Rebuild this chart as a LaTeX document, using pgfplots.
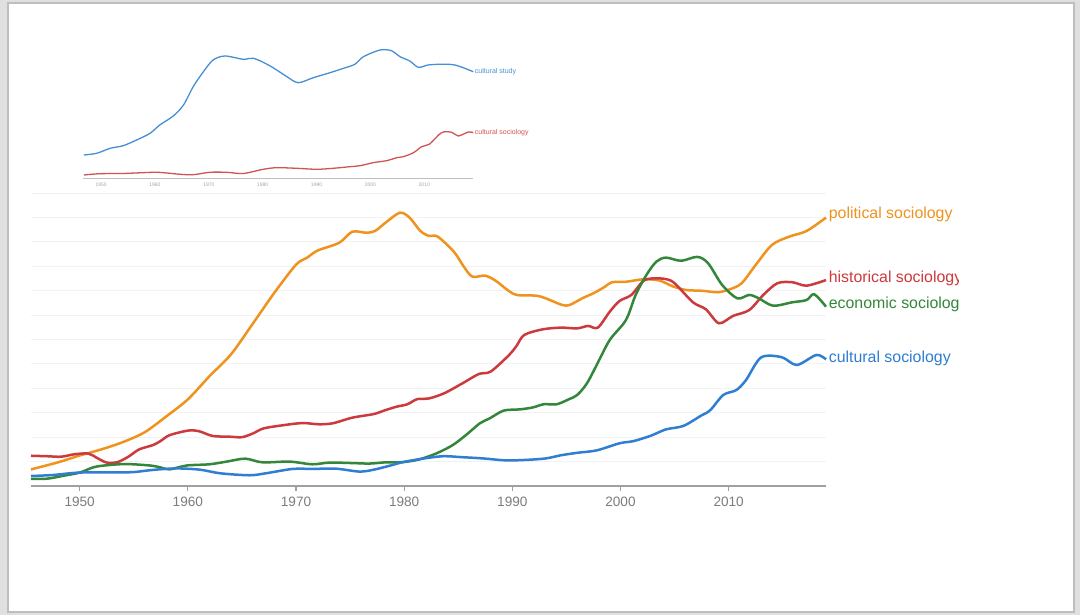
\documentclass[border=0pt]{standalone}
\usepackage{fontspec}
\setmainfont{Liberation Sans}
\usepackage{pgfplots}
\pgfplotsset{compat=1.18}

\definecolor{pol}{RGB}{240,146,30}
\definecolor{his}{RGB}{205,58,62}
\definecolor{eco}{RGB}{52,135,58}
\definecolor{cul}{RGB}{47,126,210}
\definecolor{insblue}{RGB}{72,142,212}
\definecolor{insred}{RGB}{208,84,86}
\definecolor{gridc}{RGB}{242,242,242}
\definecolor{axisc}{RGB}{160,160,160}
\definecolor{tickc}{RGB}{125,125,125}
\definecolor{bgc}{RGB}{224,224,224}
\definecolor{framec}{RGB}{190,190,190}

\begin{document}
\begin{tikzpicture}
\path[use as bounding box, fill=bgc] (0,0) rectangle (540pt,307.5pt);
\draw[fill=white, draw=framec, line width=0.6pt] (4pt,1.5pt) rectangle (537pt,306pt);

% main chart
\begin{axis}[
  at={(15.5pt,64.5pt)}, anchor=south west,
  scale only axis, width=397.5pt, height=146.4pt,
  xmin=1945.5, xmax=2019, ymin=0, ymax=12,
  axis lines*=left,
  y axis line style={draw=none},
  x axis line style={draw=axisc, line width=0.9pt},
  ytick={1,...,12}, yticklabels={}, ymajorgrids,
  major y tick style={draw=none},
  grid style={draw=gridc, line width=0.5pt},
  xtick={1950,1960,...,2010},
  tick align=outside,
  major x tick style={draw=axisc, line width=0.6pt},
  major tick length=2.5pt,
  xticklabel style={font=\fontsize{6.8}{7}\selectfont, text=tickc, inner sep=0pt, yshift=-2.6pt},
  /pgf/number format/1000 sep={},
  /pgf/number format/assume math mode=true,
  clip=false,
  every axis plot/.append style={line width=1.25pt, smooth, no markers},
]
\addplot[pol] coordinates {
(1945.5,0.68) (1948,0.97) (1950,1.25) (1952,1.5) (1954,1.8) (1956,2.2) (1958,2.85)
(1960,3.55) (1962,4.5) (1964,5.4) (1966,6.65) (1968,7.92) (1970,9.07) (1971,9.35)
(1972,9.65) (1974,9.97) (1975.2,10.42) (1976.5,10.38) (1977.3,10.45) (1978.3,10.8)
(1979.6,11.2) (1980.5,11.0) (1981.5,10.45) (1982.3,10.25) (1983.1,10.22) (1984.6,9.6)
(1985.5,9.0) (1986.3,8.58) (1987.5,8.62) (1988.5,8.4) (1989.5,8.05) (1990.4,7.83)
(1992.2,7.8) (1993.1,7.69) (1994.6,7.42) (1995.3,7.42) (1996.5,7.7) (1997.5,7.9)
(1998.5,8.15) (1999.2,8.35) (2000.5,8.37) (2002.1,8.47) (2003.6,8.42) (2004.9,8.17)
(2006.1,8.03) (2007.6,8.0) (2009,7.94) (2010.1,8.06) (2011.2,8.31) (2012.5,9.06)
(2014,9.88) (2015.6,10.22) (2017.2,10.45) (2019,11.0)
};
\addplot[his] coordinates {
(1945.5,1.24) (1947,1.22) (1948.3,1.2) (1949.5,1.3) (1950.8,1.33) (1951.6,1.15)
(1952.5,0.96) (1953.5,0.98) (1954.5,1.2) (1955.5,1.5) (1956.8,1.68) (1957.5,1.85)
(1958.3,2.08) (1960,2.27) (1961,2.25) (1962.3,2.05) (1963.9,2.02) (1965,2.0)
(1966,2.15) (1967,2.36) (1968.8,2.49) (1970.6,2.58) (1972.1,2.53) (1973.4,2.57)
(1975.2,2.8) (1977.2,2.95) (1978.2,3.1) (1979.3,3.25) (1980.3,3.35) (1981.2,3.56)
(1982.3,3.59) (1983.7,3.8) (1985.4,4.21) (1986.9,4.59) (1988,4.69) (1989.7,5.37)
(1990.4,5.75) (1991.1,6.19) (1992.8,6.42) (1994.5,6.49) (1996,6.46) (1997,6.56)
(1997.9,6.49) (1999,7.14) (1999.9,7.58) (2001,7.83) (2002.1,8.4) (2003,8.51)
(2004.2,8.48) (2005,8.31) (2006.7,7.53) (2007.9,7.24) (2009.1,6.67) (2010.4,6.97)
(2011.9,7.21) (2013.2,7.83) (2014.5,8.31) (2015.9,8.35) (2017.2,8.21) (2019,8.44)
};
\addplot[eco] coordinates {
(1945.5,0.29) (1947,0.3) (1948.5,0.42) (1950,0.55) (1951.3,0.77) (1952.5,0.85)
(1954.3,0.9) (1956.5,0.84) (1957.5,0.76) (1958.3,0.68) (1959.9,0.84) (1962,0.89)
(1963.6,1.0) (1965.3,1.12) (1966.9,0.97) (1969.4,1.0) (1971.5,0.89) (1973.1,0.96)
(1975.2,0.94) (1976.8,0.92) (1978.3,0.97) (1979.9,0.98) (1981.4,1.09) (1983,1.34)
(1984.5,1.68) (1985.8,2.12) (1987,2.57) (1987.9,2.77) (1989.2,3.09) (1990.7,3.14)
(1991.9,3.22) (1992.9,3.35) (1994.1,3.35) (1995.2,3.55) (1996,3.73) (1996.9,4.21)
(1997.8,4.96) (1999,5.98) (2000.5,6.8) (2001.4,7.83) (2002.4,8.65) (2003.3,9.19)
(2004.2,9.36) (2005.6,9.23) (2007.1,9.39) (2008.1,9.13) (2009.4,8.24) (2010.8,7.69)
(2011.9,7.83) (2012.8,7.69) (2014.1,7.39) (2015.9,7.53) (2017.2,7.62) (2017.9,7.86)
(2019,7.35)
};
\addplot[cul] coordinates {
(1945.5,0.41) (1947.5,0.45) (1950,0.55) (1953.7,0.56) (1955,0.57) (1956.8,0.66)
(1958.9,0.72) (1961.1,0.67) (1963,0.52) (1965.7,0.44) (1967.2,0.52) (1969.7,0.7)
(1971.5,0.7) (1973.7,0.71) (1975.9,0.59) (1977.3,0.68) (1978.9,0.86) (1979.9,0.98)
(1981.7,1.12) (1983.6,1.22) (1985.4,1.18) (1987.3,1.13) (1989.4,1.05) (1991.3,1.07)
(1993.1,1.13) (1994.5,1.26) (1996,1.36) (1997.8,1.46) (1999.9,1.75) (2001.2,1.84)
(2002.8,2.06) (2004.2,2.32) (2005.8,2.46) (2007.4,2.87) (2008.3,3.11) (2009.5,3.73)
(2010.7,3.93) (2011.6,4.34) (2013,5.27) (2014.9,5.28) (2016.3,4.96) (2018.1,5.37)
(2019,5.19)
};
\coordinate (pe) at (axis cs:2019,11.0);
\coordinate (he) at (axis cs:2019,8.44);
\coordinate (ee) at (axis cs:2019,7.35);
\coordinate (ce) at (axis cs:2019,5.19);
\end{axis}

% end labels, cut off at the right like in the screenshot
\begin{scope}
\clip (0,0) rectangle (479pt,307.5pt);
\tikzset{lab/.style={anchor=west, inner sep=0pt, font=\fontsize{7.95}{9}\selectfont, xshift=1.2pt}}
\node[lab, text=pol, yshift=1.4pt] at (pe) {political sociology};
\node[lab, text=his, yshift=1pt] at (he) {historical sociology};
\node[lab, text=eco, yshift=1.2pt] at (ee) {economic sociology};
\node[lab, text=cul, yshift=0.4pt] at (ce) {cultural sociology};
\end{scope}

% inset chart
\begin{axis}[
  at={(41.65pt,218.35pt)}, anchor=south west,
  scale only axis, width=195pt, height=75pt,
  xmin=1946.7, xmax=2019.1, ymin=0, ymax=150,
  axis lines*=left,
  y axis line style={draw=none}, ytick=\empty,
  x axis line style={draw=framec, line width=0.5pt},
  xtick={1950,1960,...,2010},
  major x tick style={draw=none},
  xticklabel style={font=\fontsize{2.5}{3}\selectfont, text=gray!70, inner sep=0pt, yshift=-2.1pt},
  /pgf/number format/1000 sep={},
  /pgf/number format/assume math mode=true,
  clip=false,
  every axis plot/.append style={line width=0.65pt, smooth, no markers},
]
\addplot[insblue] coordinates {
(1946.8,23.3) (1949.2,25) (1951.7,30) (1954.1,32.6) (1956.6,38.3) (1959.1,45)
(1960.9,53.3) (1963.4,62.3) (1965.3,73.3) (1967.1,91.6) (1969,106.6) (1970.8,118.3)
(1973,122.3) (1976.4,119) (1978.3,120) (1981.4,112.3) (1984.5,101.6) (1986.6,95.6)
(1989.4,100.6) (1992.5,105.6) (1995,110) (1997.1,114) (1998.7,121.6) (2001.8,128.3)
(2003.9,127.6) (2005.5,121.6) (2007.3,117.3) (2008.9,111) (2010.7,113.3)
(2012.9,114) (2015.7,113.3) (2019.1,106.6)
};
\addplot[insred] coordinates {
(1946.8,3.3) (1949.8,4.6) (1954,4.8) (1959.7,6) (1961.6,5.6) (1964.7,4) (1967.1,3.6)
(1970.2,6) (1973.3,6) (1976.4,4.8) (1980.1,9) (1982.6,10.6) (1986.3,10) (1990,9)
(1993.1,10) (1996.2,11.6) (1998.1,12.6) (2000.5,15.6) (2003,17.6) (2004.9,20.6)
(2006.1,21.6) (2008,25.6) (2009.5,31.6) (2011,34.3) (2013.2,45.6) (2015.1,46)
(2016.3,42.3) (2018.2,46.3) (2019.1,45.6)
};
\node[anchor=west, inner sep=0pt, xshift=0.6pt, text=insblue, font=\fontsize{3.5}{4}\selectfont]
  at (axis cs:2019.1,106.6) {cultural study};
\node[anchor=west, inner sep=0pt, xshift=0.6pt, text=insred, font=\fontsize{3.5}{4}\selectfont]
  at (axis cs:2019.1,45.6) {cultural sociology};
\end{axis}
\end{tikzpicture}
\end{document}
